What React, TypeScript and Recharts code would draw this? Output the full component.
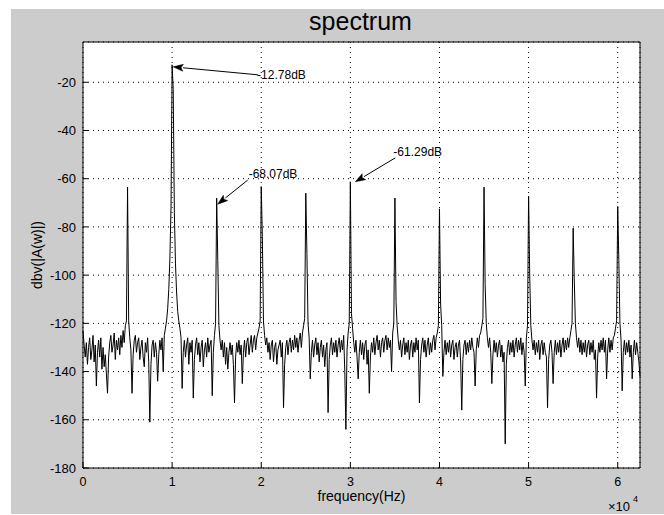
import React from 'react';
import { LineChart, Line, XAxis, YAxis, CartesianGrid, ReferenceDot, Label } from 'recharts';

// ---- data ----
const binHz = 125;
const xTicks = [0, 10000, 20000, 30000, 40000, 50000, 60000];
const yTicks = [-180, -160, -140, -120, -100, -80, -60, -40, -20];

// noise floor / leakage, one value per 125 Hz bin (0 .. 62500 Hz)
const noiseDb = [
  -123,-129,-134,-128,-137,-130,-126,-135,-131,-125,-136,-129,-146,-132,-127,-134,-126,-139,-130,-138,
  -133,-141,-149,-134,-128,-125,-132,-129,-124,-135,-127,-131,-126,-133,-125,-130,-123,-128,-121,-119,
  -120,-119,-126,-131,-149,-133,-127,-125,-132,-128,-126,-135,-130,-127,-134,-138,-128,-132,-126,-136,
  -161,-137,-129,-127,-134,-128,-132,-144,-133,-127,-131,-126,-140,-125,-122,-119,-114,-106,-93,-72,
  -40,-23,-74,-95,-107,-115,-119,-122,-126,-147,-132,-127,-134,-129,-126,-137,-128,-132,-127,-151,
  -135,-129,-126,-133,-128,-136,-130,-127,-138,-131,-128,-134,-126,-132,-129,-127,-150,-132,-125,-120,
  -120,-94,-121,-127,-131,-127,-134,-128,-137,-130,-139,-132,-128,-133,-129,-137,-153,-134,-128,-132,
  -127,-133,-129,-145,-132,-127,-134,-128,-126,-133,-129,-125,-132,-127,-125,-131,-126,-124,-122,-119,
  -120,-84,-119,-125,-129,-126,-132,-128,-135,-129,-127,-136,-130,-128,-137,-131,-129,-127,-134,-128,
  -155,-137,-130,-127,-133,-128,-126,-132,-127,-131,-125,-130,-126,-132,-127,-124,-130,-124,-121,-118,
  -120,-91,-120,-126,-143,-132,-127,-134,-129,-126,-133,-128,-136,-130,-127,-134,-129,-138,-131,-128,
  -157,-135,-129,-126,-133,-128,-132,-127,-134,-129,-126,-132,-127,-131,-125,-140,-164,-131,-124,-120,
  -120,-116,-122,-128,-132,-127,-134,-143,-132,-127,-133,-128,-135,-129,-127,-137,-131,-149,-134,-128,
  -132,-126,-133,-128,-125,-131,-127,-134,-128,-126,-132,-127,-125,-131,-126,-130,-127,-140,-124,-120,
  -120,-111,-121,-127,-131,-127,-134,-129,-126,-133,-128,-132,-127,-135,-129,-127,-134,-128,-132,-126,
  -131,-127,-153,-135,-129,-126,-132,-127,-134,-129,-126,-133,-128,-132,-127,-125,-131,-126,-124,-121,
  -120,-112,-121,-142,-132,-127,-133,-128,-132,-127,-134,-129,-127,-135,-130,-128,-134,-129,-127,-136,
  -156,-135,-129,-127,-133,-128,-132,-127,-131,-126,-130,-132,-146,-131,-126,-130,-125,-124,-121,-118,
  -120,-104,-120,-126,-130,-126,-132,-145,-133,-127,-132,-128,-134,-129,-127,-134,-129,-136,-132,-170,
  -137,-130,-127,-133,-128,-132,-127,-134,-129,-126,-132,-127,-131,-126,-133,-128,-132,-146,-126,-121,
  -120,-100,-121,-127,-131,-127,-133,-128,-132,-127,-135,-129,-127,-133,-128,-132,-134,-155,-135,-129,
  -127,-132,-145,-132,-127,-133,-128,-132,-127,-134,-129,-126,-132,-127,-131,-126,-130,-126,-123,-120,
  -120,-102,-120,-126,-130,-126,-132,-127,-133,-128,-132,-127,-134,-129,-127,-133,-128,-132,-127,-135,
  -131,-151,-134,-128,-132,-127,-131,-126,-132,-127,-143,-131,-126,-132,-127,-131,-126,-125,-122,-119,
  -120,-94,-120,-127,-148,-132,-127,-133,-128,-132,-127,-134,-129,-143,-132,-127,-133,-128,-132,-136,
  -142,
];

// harmonic tones
const toneFreqHz = [5000, 10000, 15000, 20000, 25000, 30000, 35000, 40000, 45000, 50000, 55000, 60000];
const tonePeakDb = [-63.5, -12.78, -68.07, -63.3, -66, -61.29, -68, -72.5, -63.5, -67.3, -80.5, -71.5];

// annotated peaks
const annotFreqHz = [10000, 15000, 30000];
const annotDb = [-12.78, -68.07, -61.29];
const annotText = ['-12.78dB', '-68.07dB', '-61.29dB'];

// ---- build table ----
const data = noiseDb.map((db, i) => ({ f: i * binHz, db }));
toneFreqHz.forEach((f, k) => {
  data[Math.round(f / binHz)].db = tonePeakDb[k];
});

// ---- styling ----
const FONT = '"Liberation Sans", Arial, Helvetica, sans-serif';
const W = 664;
const H = 515;
// offsets (px) relative to the peak: arrow tip, arrow tail, text start (baseline)
const annotStyle = [
  { tip: [1, 2], tail: [86, 10], text: [85, 14] },
  { tip: [1, 6], tail: [31, -18], text: [32, -20] },
  { tip: [5, 0], tail: [45, -24], text: [43, -26] },
];

function Arrow(props: any) {
  const { cx, cy, idx } = props;
  if (cx == null || cy == null) return null;
  const s = annotStyle[idx];
  const hx = cx + s.tip[0];
  const hy = cy + s.tip[1];
  const tx = cx + s.tail[0];
  const ty = cy + s.tail[1];
  const dx = hx - tx;
  const dy = hy - ty;
  const len = Math.sqrt(dx * dx + dy * dy);
  const ux = dx / len;
  const uy = dy / len;
  const hl = 10;
  const hw = 3.5;
  const bx = hx - ux * hl;
  const by = hy - uy * hl;
  const p1x = bx - uy * hw;
  const p1y = by + ux * hw;
  const p2x = bx + uy * hw;
  const p2y = by - ux * hw;
  return (
    <g>
      <line x1={tx} y1={ty} x2={bx} y2={by} stroke="#000" strokeWidth={1} />
      <polygon points={`${hx},${hy} ${p1x},${p1y} ${bx + ux * 2},${by + uy * 2} ${p2x},${p2y}`} fill="#000" stroke="#000" strokeWidth={0.5} />
      <text x={cx + s.text[0]} y={cy + s.text[1]} fontSize={12} fontFamily={FONT} fill="#000">
        {annotText[idx]}
      </text>
    </g>
  );
}

export default function App() {
  return (
    <div style={{ position: 'absolute', left: 0, top: 0, width: W, height: H, background: '#fff', overflow: 'hidden' }}>
      <div style={{ position: 'absolute', left: 11, top: 9, width: 653, height: 505, background: '#cccccc' }} />
      <div style={{ position: 'absolute', left: 0, top: 0 }}>
        <LineChart width={W} height={H} data={data} margin={{ top: 41, right: 23, left: 0, bottom: 0 }}>
          <CartesianGrid fill="#ffffff" stroke="#000" strokeDasharray="1 4" />
          <XAxis
            dataKey="f"
            type="number"
            domain={[0, 62500]}
            ticks={xTicks}
            tickFormatter={(v: number) => String(v / 10000)}
            height={47}
            stroke="#000"
            tickSize={-5}
            tickMargin={14}
            tick={{ fill: '#000', fontSize: 12.5, fontFamily: FONT }}
          >
            <Label
              content={(p: any) => {
                const vb = p.viewBox || { x: 83, y: 468, width: 557, height: 47 };
                return (
                  <g>
                    <text x={vb.x + vb.width / 2} y={vb.y + 33} textAnchor="middle" fontSize={14} fontFamily={FONT} fill="#000">
                      frequency(Hz)
                    </text>
                    <text x={vb.x + vb.width - 32} y={vb.y + 43} fontSize={13} fontFamily={FONT} fill="#000">
                      ×10
                    </text>
                    <text x={vb.x + vb.width - 7} y={vb.y + 34} fontSize={9} fontFamily={FONT} fill="#000">
                      4
                    </text>
                  </g>
                );
              }}
            />
          </XAxis>
          <XAxis
            xAxisId="top"
            orientation="top"
            type="number"
            domain={[0, 62500]}
            ticks={xTicks}
            height={1}
            stroke="#000"
            tickSize={-5}
            tick={false}
          >
            <Label
              content={(p: any) => {
                const vb = p.viewBox || { x: 83, y: 41, width: 557, height: 1 };
                return (
                  <text x={vb.x + vb.width / 2 - 1} y={vb.y - 11} textAnchor="middle" fontSize={25} fontFamily={FONT} fill="#000">
                    spectrum
                  </text>
                );
              }}
            />
          </XAxis>
          <YAxis
            type="number"
            domain={[-180, -3.3]}
            ticks={yTicks}
            width={83}
            stroke="#000"
            tickSize={-5}
            tickMargin={12}
            tick={{ fill: '#000', fontSize: 13, fontFamily: FONT }}
          >
            <Label
              content={(p: any) => {
                const vb = p.viewBox || { x: 0, y: 42, width: 83, height: 426 };
                const cx = 42;
                const cy = vb.y + vb.height / 2;
                return (
                  <text x={cx} y={cy} transform={`rotate(-90, ${cx}, ${cy})`} textAnchor="middle" fontSize={14} fontFamily={FONT} fill="#000">
                    dbv(|A(w)|)
                  </text>
                );
              }}
            />
          </YAxis>
          <YAxis
            yAxisId="right"
            orientation="right"
            type="number"
            domain={[-180, -3.3]}
            ticks={yTicks}
            width={1}
            stroke="#000"
            tickSize={-5}
            tick={false}
          />
          <Line
            type="linear"
            dataKey="db"
            stroke="#000"
            strokeWidth={1}
            dot={false}
            isAnimationActive={false}
          />
          {annotFreqHz.map((f, i) => (
            <ReferenceDot
              key={f}
              x={f}
              y={annotDb[i]}
              r={0}
              ifOverflow="visible"
              shape={(p: any) => <Arrow {...p} idx={i} />}
            />
          ))}
        </LineChart>
      </div>
    </div>
  );
}
